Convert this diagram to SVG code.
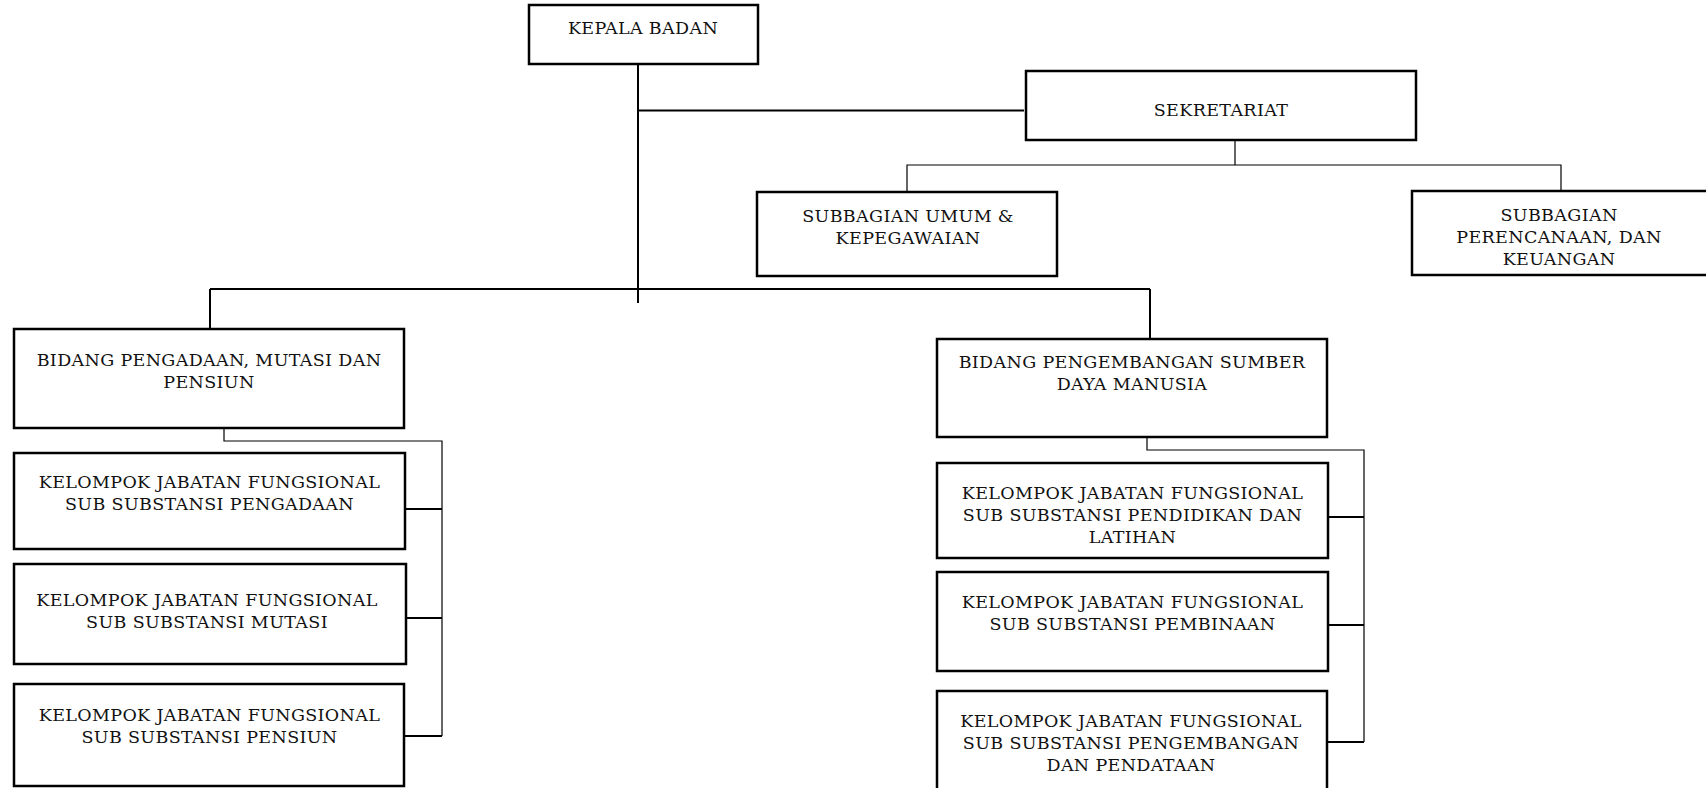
<svg xmlns="http://www.w3.org/2000/svg" width="1706" height="788" viewBox="0 0 1706 788">
<style>
.box{fill:#fff;stroke:#000;stroke-width:2.5}
.t{font-family:"DejaVu Serif","Liberation Serif",serif;font-size:17.5px;letter-spacing:0.35px;fill:#111;text-anchor:middle}
.thick{fill:none;stroke:#000;stroke-width:2}
.thin{fill:none;stroke:#000;stroke-width:1.2}
</style>
<rect width="1706" height="788" fill="#fff"/>
<g id="connectors">
<path class="thick" d="M638,64 V303 M638,110.5 H1024 M210,289 H1150 M210,289 V329 M1150,289 V339"/>
<path class="thin" d="M1235,140 V165 M907,192 V165 H1561 V191"/>
<path class="thin" d="M224,428 V441 H442 V736"/>
<path class="thick" d="M404,509 H442 M405,618 H442 M404,736 H442"/>
<path class="thin" d="M1147,437 V450 H1364 V742"/>
<path class="thick" d="M1328,517 H1364 M1328,625 H1364 M1327,742 H1364"/>
</g>
<g id="kepala"><rect class="box" x="529" y="5" width="229" height="59"/><text class="t" x="643" y="34">KEPALA BADAN</text></g>
<g id="sekretariat"><rect class="box" x="1026" y="71" width="390" height="69"/><text class="t" x="1221" y="116">SEKRETARIAT</text></g>
<g id="sub-umum"><rect class="box" x="757" y="192" width="300" height="84"/><text class="t" x="908" y="222">SUBBAGIAN UMUM &amp;</text><text class="t" x="908" y="244">KEPEGAWAIAN</text></g>
<g id="sub-perencanaan"><rect class="box" x="1412" y="191" width="310" height="84"/><text class="t" x="1559" y="221">SUBBAGIAN</text><text class="t" x="1559" y="243">PERENCANAAN, DAN</text><text class="t" x="1559" y="265">KEUANGAN</text></g>
<g id="bidang-pengadaan"><rect class="box" x="14" y="329" width="390" height="99"/><text class="t" x="209" y="366">BIDANG PENGADAAN, MUTASI DAN</text><text class="t" x="209" y="388">PENSIUN</text></g>
<g id="kjf-pengadaan"><rect class="box" x="14" y="453" width="391" height="96"/><text class="t" x="209.5" y="488">KELOMPOK JABATAN FUNGSIONAL</text><text class="t" x="209.5" y="510">SUB SUBSTANSI PENGADAAN</text></g>
<g id="kjf-mutasi"><rect class="box" x="14" y="564" width="392" height="100"/><text class="t" x="207" y="606">KELOMPOK JABATAN FUNGSIONAL</text><text class="t" x="207" y="628">SUB SUBSTANSI MUTASI</text></g>
<g id="kjf-pensiun"><rect class="box" x="14" y="684" width="390" height="102"/><text class="t" x="209.5" y="721">KELOMPOK JABATAN FUNGSIONAL</text><text class="t" x="209.5" y="743">SUB SUBSTANSI PENSIUN</text></g>
<g id="bidang-pengembangan"><rect class="box" x="937" y="339" width="390" height="98"/><text class="t" x="1132" y="368">BIDANG PENGEMBANGAN SUMBER</text><text class="t" x="1132" y="390">DAYA MANUSIA</text></g>
<g id="kjf-pendidikan"><rect class="box" x="937" y="463" width="391" height="95"/><text class="t" x="1132.5" y="499">KELOMPOK JABATAN FUNGSIONAL</text><text class="t" x="1132.5" y="521">SUB SUBSTANSI PENDIDIKAN DAN</text><text class="t" x="1132.5" y="542.5">LATIHAN</text></g>
<g id="kjf-pembinaan"><rect class="box" x="937" y="572" width="391" height="99"/><text class="t" x="1132.5" y="608">KELOMPOK JABATAN FUNGSIONAL</text><text class="t" x="1132.5" y="630">SUB SUBSTANSI PEMBINAAN</text></g>
<g id="kjf-pengembangan"><rect class="box" x="937" y="691" width="390" height="110"/><text class="t" x="1131" y="727">KELOMPOK JABATAN FUNGSIONAL</text><text class="t" x="1131" y="749">SUB SUBSTANSI PENGEMBANGAN</text><text class="t" x="1131" y="771">DAN PENDATAAN</text></g>
</svg>
